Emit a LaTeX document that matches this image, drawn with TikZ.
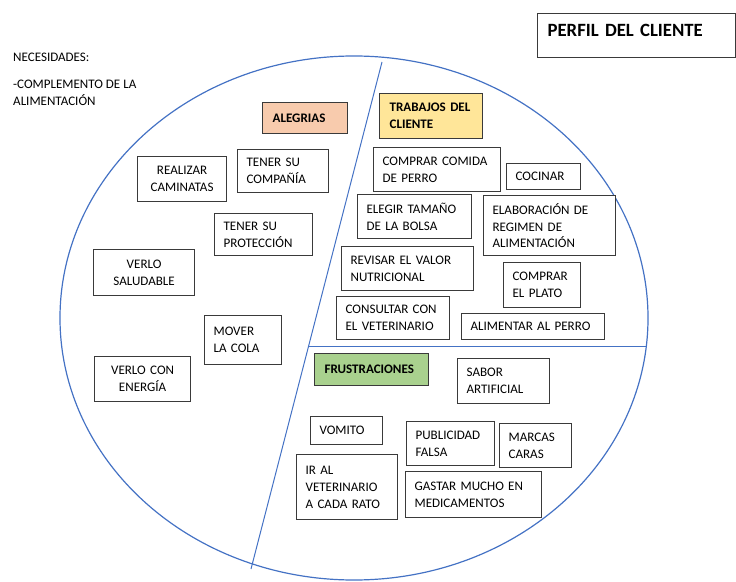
\documentclass[tikz,border=0pt]{standalone}
\usepackage{fontspec}
\setmainfont{Carlito}
\definecolor{ringblue}{HTML}{4472C4}
\definecolor{boxline}{HTML}{3A3A3A}
\definecolor{joyfill}{HTML}{F8CBAD}
\definecolor{jobfill}{HTML}{FFE699}
\definecolor{painfill}{HTML}{A9D18E}
\newcommand\cbfont{\fontsize{13.1}{17}\selectfont}
\tikzset{
  card/.style={draw=boxline, line width=1.2bp, fill=white, anchor=north west,
    inner xsep=9bp, inner ysep=0pt, font=\cbfont, align=left},
  cardc/.style={card, align=center},
  header/.style={card, inner xsep=10bp, font=\cbfont\bfseries},
  ring/.style={draw=ringblue, line width=1.2bp},
  divider/.style={draw=ringblue, line width=1bp},
  % box size: width, height, side padding taken off for the text width
  sz/.code n args={3}{%
    \pgfmathsetmacro\cbtw{#1-#3}%
    \edef\cbnext{\noexpand\pgfkeysalso{minimum width=#1bp, minimum height=#2bp, text width=\cbtw bp}}%
    \cbnext},
  wh/.style 2 args={sz={#1}{#2}{18}},
  hwh/.style 2 args={sz={#1}{#2}{20}},
}
\begin{document}
\begin{tikzpicture}[x=1bp, y=-1bp]
\useasboundingbox (0,0) rectangle (736,582);

% customer profile circle and its three sections
\draw[ring] (354,318) ellipse [x radius=294bp, y radius=262bp];
\draw[divider] (382,62) -- (251,569);
\draw[divider] (309,346) -- (647,346);

% title
\node[card, inner xsep=10bp, font=\fontsize{18.8}{22}\selectfont\bfseries,
  minimum width=198bp, text width=178bp, text height=23bp, text depth=21bp]
  (title) at (537,13) {PERFIL DEL CLIENTE};

% needs
\node[anchor=north west, inner sep=0pt, font=\cbfont, align=left] (needs) at (13,53)
  {NECESIDADES:\\[10bp]-COMPLEMENTO DE LA\\ALIMENTACIÓN};

% gains
\node[header, fill=joyfill, hwh={85}{31}] (alegrias) at (262,102) {ALEGRIAS};
\node[cardc, wh={89}{45}] (caminatas) at (137,156) {REALIZAR\\CAMINATAS};
\node[card, wh={91}{43}] (compania) at (237,149) {TENER SU\\COMPAÑÍA};
\node[card, wh={98}{42}] (proteccion) at (214,213) {TENER SU\\PROTECCIÓN};
\node[cardc, wh={101}{46}] (saludable) at (93,249) {VERLO\\SALUDABLE};
\node[card, wh={77}{49}] (cola) at (204,315) {MOVER\\LA COLA};
\node[cardc, wh={96}{45}] (energia) at (94,356) {VERLO CON\\ENERGÍA};

% customer jobs
\node[header, fill=jobfill, hwh={103}{45}] (trabajos) at (379,93) {TRABAJOS DEL\\CLIENTE};
\node[card, wh={127}{44}] (comida) at (373,147) {COMPRAR COMIDA\\DE PERRO};
\node[card, wh={74}{26}] (cocinar) at (506,163) {COCINAR};
\node[card, wh={114}{44}] (bolsa) at (357,194) {ELEGIR TAMAÑO\\DE LA BOLSA};
\node[card, wh={132}{60}] (regimen) at (483,195) {ELABORACIÓN DE\\REGIMEN DE\\ALIMENTACIÓN};
\node[card, wh={132}{44}] (valor) at (341,246) {REVISAR EL VALOR\\NUTRICIONAL};
\node[card, wh={77}{45}] (plato) at (503,262) {COMPRAR\\EL PLATO};
\node[card, wh={113}{43}] (consulta) at (336,296) {CONSULTAR CON\\EL VETERINARIO};
\node[card, wh={143}{26}] (alimentar) at (461,313) {ALIMENTAR AL PERRO};

% pains
\node[header, fill=painfill, hwh={114}{32}] (frustraciones) at (314,353) {FRUSTRACIONES};
\node[card, wh={92}{45}] (sabor) at (457,358) {SABOR\\ARTIFICIAL};
\node[card, wh={72}{28}] (vomito) at (310,416) {VOMITO};
\node[card, wh={88}{44}] (publicidad) at (406,421) {PUBLICIDAD\\FALSA};
\node[card, wh={72}{44}] (marcas) at (499,423) {MARCAS\\CARAS};
\node[card, wh={101}{65}] (irvet) at (296,454) {IR AL\\VETERINARIO\\A CADA RATO};
\node[card, wh={136}{46}] (gastar) at (405,471) {GASTAR MUCHO EN\\MEDICAMENTOS};
\end{tikzpicture}
\end{document}
